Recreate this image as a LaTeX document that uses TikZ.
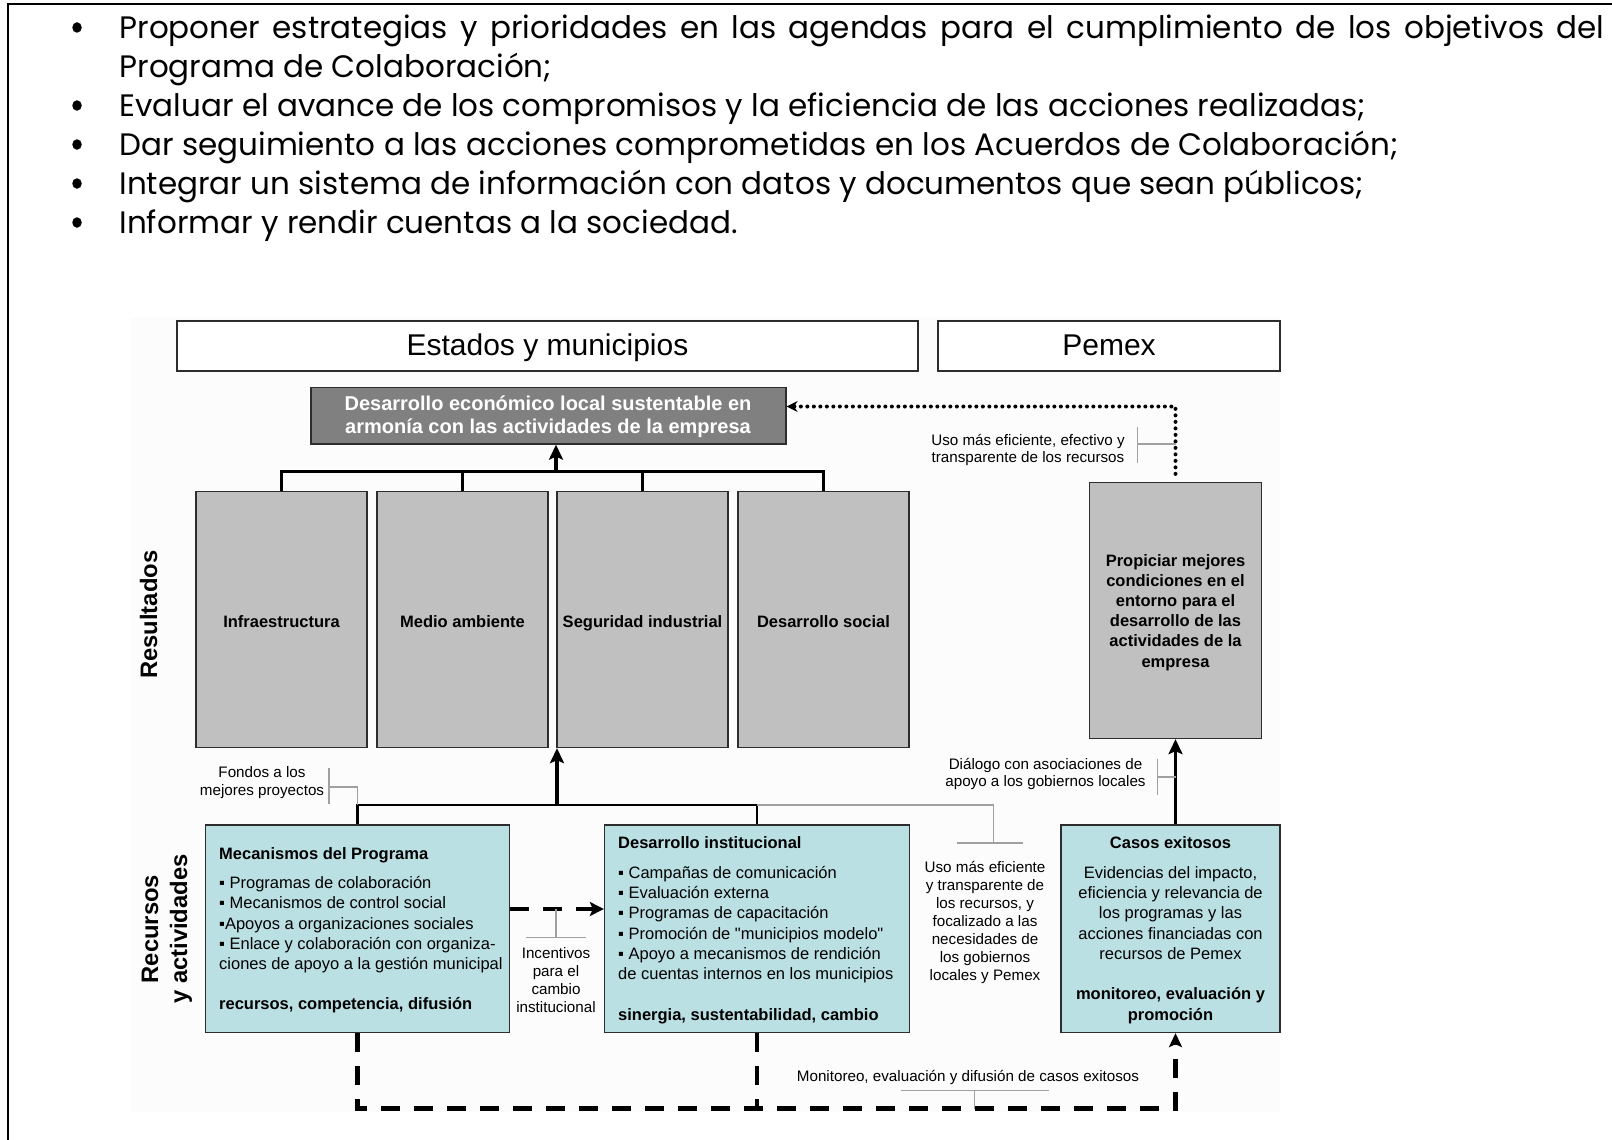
\documentclass[tikz,border=0pt]{standalone}
\usepackage{fontspec}
\setmainfont{Liberation Sans}
\newfontfamily\bodyfont{Poppins}
\newfontfamily\qfont{Liberation Sans}[Ligatures=TeXOff]
\usetikzlibrary{arrows.meta,calc,shapes.geometric}

\definecolor{cyanbox}{RGB}{187,224,227}
\definecolor{grbox}{RGB}{192,192,192}
\definecolor{dkbox}{RGB}{128,128,128}
\definecolor{brk}{RGB}{160,160,160}
\definecolor{bgd}{RGB}{252,252,252}
\definecolor{edge}{RGB}{45,45,45}

\newcommand{\fBody}{\bodyfont\fontsize{31}{39}\selectfont}
\newcommand{\fHdr}{\fontsize{30}{36}\selectfont}
\newcommand{\fDark}{\fontsize{20}{24}\selectfont\bfseries}
\newcommand{\fBox}{\fontsize{16.5}{20}\selectfont}
\newcommand{\fSm}{\fontsize{15.2}{18}\selectfont}
\newcommand{\fRot}{\fontsize{23.8}{28}\selectfont\bfseries}

\begin{document}
\begin{tikzpicture}[x=1pt,y=-1pt,
  every node/.style={inner sep=0pt},
  body/.style={font=\fBody, anchor=base west},
  bul/.style={ellipse, fill=black, minimum width=9.5, minimum height=10.5},
  hdrbox/.style={draw=edge, line width=1.3, fill=white, font=\fHdr, text height=21, text depth=2},
  darkbox/.style={draw=edge, line width=1.3, fill=dkbox},
  dtxt/.style={font=\fDark, text=white, anchor=base},
  resbox/.style={draw=edge, line width=1.3, fill=grbox, minimum width=171, minimum height=256, font=\fBox\bfseries, text height=15, text depth=0},
  cyanb/.style={draw=edge, line width=1.3, fill=cyanbox, minimum height=207.5},
  bl/.style={font=\fBox, anchor=base west},
  bc/.style={font=\fBox, anchor=base},
  sl/.style={font=\fSm, anchor=base},
  rot/.style={font=\fRot, rotate=90, anchor=base},
  bus/.style={line width=2.6, draw=black},
  bigarrow/.style={line width=3.5, draw=black, -{Stealth[length=15pt,width=14pt,inset=3pt]}},
  dashthick/.style={line width=4.2, draw=black, dash pattern=on 19pt off 14pt},
  dotline/.style={line width=4, draw=black, line cap=round, dash pattern=on 0pt off 6.5pt},
  graybr/.style={line width=1.8, draw=brk}
]
\useasboundingbox (0,0) rectangle (1612,1140);
\fill[white] (0,0) rectangle (1612,1140);
\fill[bgd] (130,318) rectangle (1280,1112);

% page border
\draw[line width=2.5] (8,1140) -- (8,4) -- (1612,4);

% bullet list
\node[bul] (d1) at (77,27.5) {};
\node[body] (t1) at (119.3,38.5) {\makebox[1485pt][s]{Proponer estrategias y prioridades en las agendas para el cumplimiento de los objetivos del}};
\node[body] (t2) at (119.3,77.5) {Programa de Colaboración;};
\node[bul] (d3) at (77,105.5) {};
\node[body] (t3) at (119.3,116.5) {Evaluar el avance de los compromisos y la eficiencia de las acciones realizadas;};
\node[bul] (d4) at (77,144.5) {};
\node[body] (t4) at (119.3,155.5) {Dar seguimiento a las acciones comprometidas en los Acuerdos de Colaboración;};
\node[bul] (d5) at (77,183.5) {};
\node[body] (t5) at (119.3,194.5) {Integrar un sistema de información con datos y documentos que sean públicos;};
\node[bul] (d6) at (77,222.5) {};
\node[body] (t6) at (119.3,233.5) {Informar y rendir cuentas a la sociedad.};

% headers
\node[hdrbox, minimum width=741, minimum height=50] (estados) at (547.5,346) {Estados y municipios};
\node[hdrbox, minimum width=342, minimum height=50] (pemex) at (1109,346) {Pemex};

% top goal box
\node[darkbox, minimum width=475, minimum height=56.5] (desEco) at (548.5,415.75) {};
\node[dtxt] (de1) at (548,410.5) {Desarrollo económico local sustentable en};
\node[dtxt] (de2) at (548,433) {armonía con las actividades de la empresa};

% results boxes
\node[resbox] (res1) at (281.5,619.5) {Infraestructura};
\node[resbox] (res2) at (462.5,619.5) {Medio ambiente};
\node[resbox] (res3) at (642.5,619.5) {Seguridad industrial};
\node[resbox] (res4) at (823.5,619.5) {Desarrollo social};

% Pemex result box
\node[draw=edge, line width=1.3, fill=grbox, minimum width=171.5, minimum height=256] (prop) at (1175.5,610.5) {};
\node[bc, font=\fBox\bfseries] (p1) at (1175.5,566.3) {Propiciar mejores};
\node[bc, font=\fBox\bfseries] (p2) at (1175.5,586.4) {condiciones en el};
\node[bc, font=\fBox\bfseries] (p3) at (1175.5,606.6) {entorno para el};
\node[bc, font=\fBox\bfseries] (p4) at (1175.5,626.7) {desarrollo de las};
\node[bc, font=\fBox\bfseries] (p5) at (1175.5,646.9) {actividades de la};
\node[bc, font=\fBox\bfseries] (p6) at (1175.5,667) {empresa};

% side labels
\node[rot] (resul) at (157,614.7) {Resultados};
\node[rot] (recur) at (158,929) {Recursos};
\node[rot] (yact) at (187,929) {y actividades};

% resource boxes
\node[cyanb, minimum width=304] (mec) at (357.5,928.75) {};
\node[cyanb, minimum width=305] (dinst) at (757,928.75) {};
\node[cyanb, minimum width=219] (casos) at (1170.5,928.75) {};

\node[bl, font=\fBox\bfseries] (m0) at (219,859) {Mecanismos del Programa};
\node[bl] (m1) at (219,888.5) {▪ Programas de colaboración};
\node[bl] (m2) at (219,908.8) {▪ Mecanismos de control social};
\node[bl] (m3) at (219,929.1) {▪Apoyos a organizaciones sociales};
\node[bl] (m4) at (219,949.4) {▪ Enlace y colaboración con organiza-};
\node[bl] (m5) at (219,969.7) {ciones de apoyo a la gestión municipal};
\node[bl, font=\fBox\bfseries] (m6) at (219,1009.5) {recursos, competencia, difusión};

\node[bl, font=\fBox\bfseries] (i0) at (618,848.5) {Desarrollo institucional};
\node[bl] (i1) at (618,878.3) {▪ Campañas de comunicación};
\node[bl] (i2) at (618,898.6) {▪ Evaluación externa};
\node[bl] (i3) at (618,918.9) {▪ Programas de capacitación};
\node[bl] (i4) at (618,939.2) {▪ Promoción de {\qfont"}municipios modelo{\qfont"}};
\node[bl] (i5) at (618,959.5) {▪ Apoyo a mecanismos de rendición};
\node[bl] (i6) at (618,979.8) {de cuentas internos en los municipios};
\node[bl, font=\fBox\bfseries] (i7) at (618,1020) {sinergia, sustentabilidad, cambio};

\node[bc, font=\fBox\bfseries] (c0) at (1170.5,848.5) {Casos exitosos};
\node[bc] (c1) at (1170.5,878.3) {Evidencias del impacto,};
\node[bc] (c2) at (1170.5,898.6) {eficiencia y relevancia de};
\node[bc] (c3) at (1170.5,918.9) {los programas y las};
\node[bc] (c4) at (1170.5,939.2) {acciones financiadas con};
\node[bc] (c5) at (1170.5,959.5) {recursos de Pemex};
\node[bc, font=\fBox\bfseries] (c6) at (1170.5,999.5) {monitoreo, evaluación y};
\node[bc, font=\fBox\bfseries] (c7) at (1170.5,1020) {promoción};

% connectors: results to goal
\coordinate (busT) at (556,471.5);
\draw[bus] (res1.north) -- (res1.north |- busT) -- (res4.north |- busT) -- (res4.north);
\draw[bus] (res2.north) -- (res2.north |- busT);
\draw[bus] (res3.north) -- (res3.north |- busT);
\draw[bigarrow] (busT) -- (busT |- desEco.south);

% dotted feedback
\coordinate (dotC) at (1175.5,406.5);
\draw[dotline, -{Stealth[length=11pt,width=11pt]}] ($(prop.north)+(0,-8)$) -- (dotC) -- (dotC -| desEco.east);

\node[sl] (uso1) at (1028,445) {Uso más eficiente, efectivo y};
\node[sl] (uso2) at (1028,462.5) {transparente de los recursos};
\coordinate (usoB) at (1137.5,444);
\coordinate (usoT) at (1137.5,426.5);
\coordinate (usoE) at (1137.5,462.5);
\draw[graybr] (usoT) -- (usoE);
\draw[graybr] (usoB) -- (usoB -| prop.north);

% casos to prop
\draw[bigarrow] (prop.south |- casos.north) -- (prop.south);
\node[sl] (dia1) at (1045.5,769) {Diálogo con asociaciones de};
\node[sl] (dia2) at (1045.5,786.5) {apoyo a los gobiernos locales};
\coordinate (diaT) at (1157.5,758.5);
\coordinate (diaE) at (1157.5,794.5);
\coordinate (diaB) at (1157.5,777);
\draw[graybr] (diaT) -- (diaE);
\draw[graybr] (diaB) -- (diaB -| prop.south);

% lower bus
\coordinate (busB) at (557,805);
\draw[bus] (mec.north) -- (mec.north |- busB) -- (dinst.north |- busB) -- (dinst.north);
\draw[bigarrow] (busB) -- (busB |- res3.south);
\coordinate (grC) at (993.5,805);
\coordinate (grD) at (993.5,843);
\draw[graybr] (dinst.north |- busB) -- (grC) -- (grD);
\draw[graybr] (957,843) -- (1023,843);

\node[sl] (fon1) at (262,777) {Fondos a los};
\node[sl] (fon2) at (262,795.5) {mejores proyectos};
\coordinate (fonT) at (329,768);
\coordinate (fonE) at (329,804);
\coordinate (fonB) at (329,787);
\draw[graybr] (fonT) -- (fonE);
\draw[graybr] (fonB) -- (fonB -| mec.north) -- (mec.north |- busB);

% dashed arrow between boxes
\coordinate (yD) at (0,909);
\draw[dashthick, -{Stealth[length=14pt,width=14pt,inset=3pt]}] (mec.east |- yD) -- (dinst.west |- yD);
\coordinate (incT) at (556,909);
\coordinate (incB) at (556,937.5);
\draw[graybr] (incT) -- (incB);
\draw[graybr] ($(incB)+(-30,0)$) -- ($(incB)+(30,0)$);
\node[sl] (n1) at (556,958) {Incentivos};
\node[sl] (n2) at (556,976.5) {para el};
\node[sl] (n3) at (556,994) {cambio};
\node[sl] (n4) at (556,1012.4) {institucional};

% middle label
\node[sl] (u1) at (985,872.6) {Uso más eficiente};
\node[sl] (u2) at (985,890.6) {y transparente de};
\node[sl] (u3) at (985,908.6) {los recursos, y};
\node[sl] (u4) at (985,926.6) {focalizado a las};
\node[sl] (u5) at (985,944.6) {necesidades de};
\node[sl] (u6) at (985,962.6) {los gobiernos};
\node[sl] (u7) at (985,980.6) {locales y Pemex};

% bottom dashed loop
\coordinate (botR) at (1175.5,1108.5);
\draw[dashthick, -{Stealth[length=14pt,width=13pt,inset=3pt]}] (mec.south) |- (botR) -- (botR |- casos.south);
\draw[dashthick] (dinst.south) -- (dinst.south |- botR);
\node[sl] (moni) at (968,1081) {Monitoreo, evaluación y difusión de casos exitosos};
\coordinate (moT) at (974.5,1090.5);
\draw[graybr] (900.5,1090.5) -- (1048.5,1090.5);
\draw[graybr] (moT) -- (moT |- botR);
\end{tikzpicture}
\end{document}
